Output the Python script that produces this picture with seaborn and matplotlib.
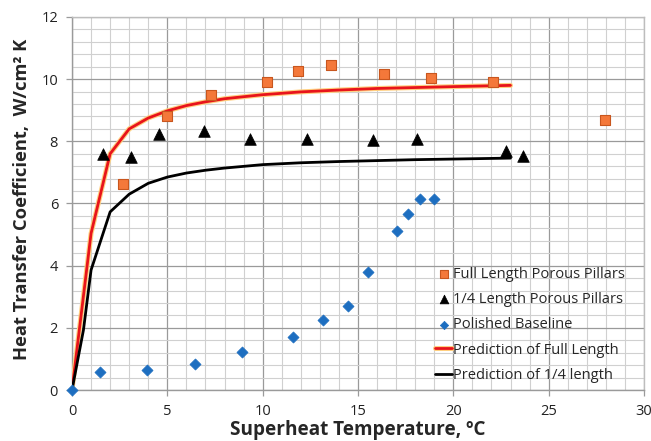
import matplotlib
matplotlib.use("Agg")
import matplotlib.pyplot as plt
import matplotlib.patheffects as pe
from matplotlib.ticker import MultipleLocator
import seaborn as sns
import pandas as pd

# ---- data ----
full_x = [2.68, 4.97, 7.31, 10.22, 11.83, 13.6, 16.34, 18.85, 22.1, 27.95]
full_y = [6.62, 8.83, 9.50, 9.91, 10.27, 10.45, 10.16, 10.05, 9.92, 8.69]

quarter_x = [1.63, 3.08, 4.58, 6.93, 9.34, 12.35, 15.78, 18.09, 22.76, 23.67]
quarter_y = [7.58, 7.48, 8.24, 8.33, 8.09, 8.06, 8.03, 8.06, 7.70, 7.54]

base_x = [0.0, 1.47, 3.92, 6.47, 8.94, 11.6, 13.16, 14.47, 15.52, 17.04, 17.6, 18.23, 19.0]
base_y = [0.0, 0.57, 0.63, 0.84, 1.22, 1.69, 2.25, 2.71, 3.80, 5.11, 5.66, 6.14, 6.14]

pred_full_x = [0, 1, 2, 3, 4, 5, 6, 7, 8, 10, 12, 14, 16, 18, 20, 23]
pred_full_y = [0, 5.04, 7.6, 8.4, 8.75, 8.98, 9.15, 9.27, 9.37, 9.5, 9.59, 9.65, 9.7, 9.73, 9.76, 9.8]

pred_q_x = [0, 0.6, 1, 2, 3, 4, 5, 6, 7, 8, 10, 12, 14, 16, 18, 20, 23]
pred_q_y = [0, 1.93, 3.86, 5.73, 6.3, 6.65, 6.85, 6.98, 7.07, 7.14, 7.25, 7.31, 7.35, 7.38, 7.41, 7.43, 7.46]

labels = ["Full Length Porous Pillars", "1/4 Length Porous Pillars", "Polished Baseline",
          "Prediction of Full Length", "Prediction of 1/4 length"]

sns.set_style("white")
plt.rcParams['font.family'] = ['Open Sans', 'DejaVu Sans']

fig = plt.figure(figsize=(6.51, 4.41), dpi=100)
ax = fig.add_axes([0.1106, 0.1156, 0.8786, 0.8459])

df_full = pd.DataFrame({"x": full_x, "y": full_y})
df_q = pd.DataFrame({"x": quarter_x, "y": quarter_y})
df_b = pd.DataFrame({"x": base_x, "y": base_y})
df_pf = pd.DataFrame({"x": pred_full_x, "y": pred_full_y})
df_pq = pd.DataFrame({"x": pred_q_x, "y": pred_q_y})

sns.lineplot(data=df_pf, x="x", y="y", ax=ax, sort=False, color="#E8141B", lw=2.0,
             label=labels[3], zorder=3,
             path_effects=[pe.Stroke(linewidth=3.6, foreground="#FFD080"), pe.Normal()])
sns.lineplot(data=df_pq, x="x", y="y", ax=ax, sort=False, color="black", lw=2.0,
             label=labels[4], zorder=3)
sns.scatterplot(data=df_full, x="x", y="y", ax=ax, marker="s", s=55, color="#F4783A",
                edgecolor="#C8561E", linewidth=0.8, label=labels[0], zorder=4)
sns.scatterplot(data=df_q, x="x", y="y", ax=ax, marker="^", s=70, color="black",
                edgecolor="black", linewidth=0.5, label=labels[1], zorder=4)
sns.scatterplot(data=df_b, x="x", y="y", ax=ax, marker="D", s=32, color="#1D6EC0",
                edgecolor="#1D6EC0", linewidth=0.5, label=labels[2], zorder=4, clip_on=False)

ax.set_xlim(0, 30)
ax.set_ylim(0, 12)
ax.xaxis.set_major_locator(MultipleLocator(5))
ax.xaxis.set_minor_locator(MultipleLocator(1))
ax.yaxis.set_major_locator(MultipleLocator(2))
ax.yaxis.set_minor_locator(MultipleLocator(0.4))
ax.grid(which="major", color="#9a9a9a", lw=0.9)
ax.grid(which="minor", color="#d0d0d0", lw=0.8)
ax.set_axisbelow(True)

for s in ["top", "right"]:
    ax.spines[s].set_color("#bdbdbd")
    ax.spines[s].set_linewidth(1.0)
for s in ["left", "bottom"]:
    ax.spines[s].set_color("#9a9a9a")
    ax.spines[s].set_linewidth(1.0)

ax.tick_params(axis="both", which="major", labelsize=10.5, labelcolor="#222222",
               direction="out", length=4, color="#9a9a9a", width=0.9, bottom=True, left=True, pad=6)
ax.tick_params(axis="both", which="minor", length=0)

ax.set_xlabel("Superheat Temperature, ºC", fontsize=13.7, fontweight="bold", va="center")
ax.xaxis.set_label_coords(0.5, -0.108)
ax.set_ylabel("Heat Transfer Coefficient,  W/cm² K", fontsize=13.2, fontweight="bold", va="center")
ax.yaxis.set_label_coords(-0.088, 0.51)

handles, labs = ax.get_legend_handles_labels()
order = [labs.index(l) for l in labels]
leg = ax.legend([handles[i] for i in order], [labs[i] for i in order],
                loc="lower right", bbox_to_anchor=(0.982, -0.004), frameon=False,
                fontsize=10.5, handlelength=1.2, handletextpad=0.05, labelspacing=0.70,
                borderaxespad=0.2, markerscale=0.75)

fig.savefig("out.png", dpi=100)
